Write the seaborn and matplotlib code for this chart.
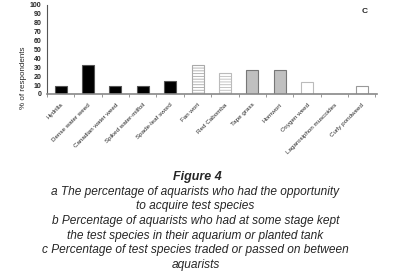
import matplotlib
matplotlib.use('Agg')
import seaborn as sns
import matplotlib.pyplot as plt
import pandas as pd

species = ['Hydrilla', 'Dense water weed', 'Canadian water weed', 'Spiked water-milfoil',
           'Spade-leaf sword', 'Fan wort', 'Red Cabomba', 'Tape grass', 'Hornwort',
           'Oxygen weed', 'Lagarosiphon muscoides', 'Curly pondweed']
pct = [9, 32, 9, 9, 14, 32, 23, 27, 27, 13, 0, 9]

face = ['black'] * 5 + ['white', 'white', '#c0c0c0', '#c0c0c0', 'white', 'white', 'white']
edge = ['#555555'] * 5 + ['#aaaaaa', '#bbbbbb', '#777777', '#777777', '#bbbbbb', '#bbbbbb', '#999999']
hatch = [''] * 5 + ['------', '------', '', '', '', '', '']

sns.set_style('white')
plt.rcParams['font.family'] = ['Liberation Sans', 'DejaVu Sans']
plt.rcParams['hatch.color'] = '#999999'
plt.rcParams['hatch.linewidth'] = 0.6

df = pd.DataFrame({'species': species, 'pct': pct})

fig = plt.figure(figsize=(3.95, 2.73), dpi=100)
ax = fig.add_axes([0.119, 0.656, 0.835, 0.326])
sns.barplot(data=df, x='species', y='pct', ax=ax, width=0.44, color='black')
for p, fc, ec, h in zip(ax.patches, face, edge, hatch):
    p.set_facecolor(fc)
    p.set_edgecolor(ec)
    p.set_linewidth(0.8)
    p.set_hatch(h)

ax.set_xlim(-0.44, 11.55)
ax.set_ylim(0, 100)
ax.set_yticks(range(0, 101, 10))
ax.tick_params(axis='y', labelsize=5, pad=4, length=0)
for t in ax.get_yticklabels():
    t.set_fontweight('bold')
ax.set_xticks(range(len(species)))
ax.set_xticklabels(species, rotation=45, ha='right', rotation_mode='anchor', fontsize=4.5)
ax.tick_params(axis='x', length=0, pad=6)
ax.set_xticks([i + 0.5 for i in range(-1, len(species))], minor=True)
ax.tick_params(axis='x', which='minor', length=2.5, color='#888888', width=0.6, direction='out', bottom=True)
ax.set_xlabel('')
ax.set_ylabel('% of respondents', fontsize=5.8)
ax.yaxis.set_label_coords(-0.062, 0.18)
for s in ['top', 'right']:
    ax.spines[s].set_visible(False)
ax.spines['left'].set_color('#555555')
ax.spines['left'].set_linewidth(0.8)
ax.spines['bottom'].set_color('#888888')
ax.spines['bottom'].set_linewidth(1.2)

fig.text(0.922, 0.958, 'C', fontsize=6, fontweight='bold', ha='center', va='center')

fig.text(0.5, 0.352, 'Figure 4', fontsize=9, fontstyle='italic', fontweight='bold', ha='center', va='center')
caption = ('a The percentage of aquarists who had the opportunity\n'
           'to acquire test species\n'
           'b Percentage of aquarists who had at some stage kept\n'
           'the test species in their aquarium or planted tank\n'
           'c Percentage of test species traded or passed on between\n'
           'aquarists')
fig.text(0.495, 0.007, caption, fontsize=8.6, fontstyle='italic', ha='center', va='bottom',
         linespacing=1.3)

fig.savefig('out.png', dpi=100)
